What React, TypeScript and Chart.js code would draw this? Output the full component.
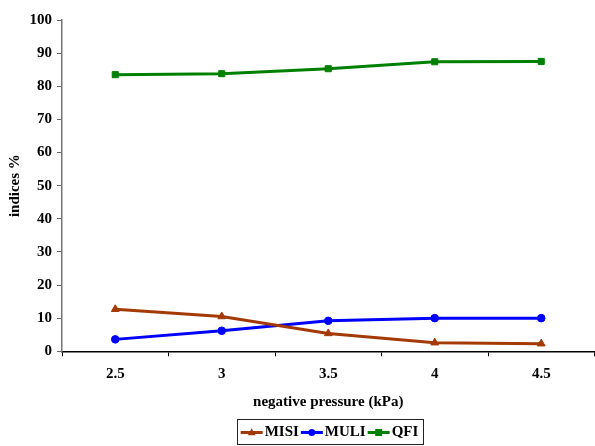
import React, { useEffect, useRef } from "react";
import { Chart, registerables } from "chart.js";

Chart.register(...registerables);

const categories = ["2.5", "3", "3.5", "4", "4.5"];
const misi = [12.7, 10.5, 5.4, 2.6, 2.3];
const muli = [3.6, 6.2, 9.2, 10.0, 10.0];
const qfi = [83.5, 83.8, 85.3, 87.4, 87.5];
const seriesNames = ["MISI", "MULI", "QFI"];
const seriesColors = ["#A33A06", "#0000FF", "#008000"];
const seriesMarkers = ["triangle", "circle", "rect"];

const FONT = "'Liberation Serif', 'Times New Roman', serif";
const FS = 15;

function drawMarker(ctx: CanvasRenderingContext2D, style: string, x: number, y: number, r: number) {
  ctx.beginPath();
  if (style === "circle") {
    ctx.arc(x, y, r, 0, Math.PI * 2);
  } else if (style === "rect") {
    ctx.rect(x - r, y - r, r * 2, r * 2);
  } else {
    ctx.moveTo(x, y - r * 1.2);
    ctx.lineTo(x + r * 1.1, y + r * 0.8);
    ctx.lineTo(x - r * 1.1, y + r * 0.8);
    ctx.closePath();
  }
  ctx.fill();
}

const legendPlugin = {
  id: "boxLegend",
  afterDraw(chart: any) {
    const ctx = chart.ctx;
    ctx.save();
    ctx.font = `bold ${FS}px ${FONT}`;
    const lineLen = 22;
    const gapAfterLine = 2;
    const gapItem = 2;
    const pad = 4;
    const items = chart.data.datasets.map((ds: any) => ({
      ds,
      w: lineLen + gapAfterLine + ctx.measureText(ds.label).width,
    }));
    const total =
      items.reduce((s: number, it: any) => s + it.w, 0) +
      gapItem * (items.length - 1) +
      pad * 2;
    const cx = 329.5;
    const top = 419;
    const h = 25;
    const left = cx - total / 2;
    ctx.strokeStyle = "#222";
    ctx.lineWidth = 1;
    ctx.strokeRect(Math.round(left) + 0.5, top + 0.5, Math.round(total), h);
    let x = left + pad;
    const cy = top + h / 2 + 1;
    items.forEach((it: any) => {
      const ds = it.ds;
      ctx.strokeStyle = ds.borderColor;
      ctx.lineWidth = 3;
      ctx.beginPath();
      ctx.moveTo(x, cy);
      ctx.lineTo(x + lineLen, cy);
      ctx.stroke();
      ctx.fillStyle = ds.borderColor;
      drawMarker(ctx, ds.pointStyle, x + lineLen / 2, cy, 3.5);
      ctx.fillStyle = "#000";
      ctx.textBaseline = "middle";
      ctx.textAlign = "left";
      ctx.fillText(ds.label, x + lineLen + gapAfterLine, cy);
      x += it.w + gapItem;
    });
    ctx.restore();
  },
};

export default function App() {
  const ref = useRef<HTMLCanvasElement>(null);
  useEffect(() => {
    if (!ref.current) return;
    const values = [misi, muli, qfi];
    const chart = new Chart(ref.current, {
      type: "line",
      data: {
        labels: categories,
        datasets: seriesNames.map((name, i) => ({
          label: name,
          data: values[i],
          borderColor: seriesColors[i],
          backgroundColor: seriesColors[i],
          borderWidth: 3,
          pointStyle: seriesMarkers[i] as any,
          pointRadius: seriesMarkers[i] === "rect" ? 4.3 : seriesMarkers[i] === "triangle" ? 4.5 : 3.8,
          pointBorderWidth: 1,
          tension: 0,
          fill: false,
        })),
      },
      options: {
        responsive: false,
        animation: false,
        devicePixelRatio: 1,
        layout: { padding: { top: 20, right: 1.5, bottom: 34.7, left: 0 } },
        plugins: {
          legend: { display: false },
          tooltip: { enabled: false },
        },
        scales: {
          x: {
            type: "category",
            offset: true,
            grid: {
              drawOnChartArea: false,
              drawTicks: true,
              tickLength: 5,
              color: "#000",
              offset: true,
            },
            border: { color: "#000", width: 1.5 },
            ticks: {
              color: "#000",
              font: { family: FONT, size: FS, weight: "bold" },
              padding: 9,
              maxRotation: 0,
            },
            title: {
              display: true,
              text: "negative pressure (kPa)",
              color: "#000",
              font: { family: FONT, size: FS, weight: "bold" },
              padding: { top: 10, bottom: 0 },
            },
            afterFit: (scale: any) => {
              scale.height = 60;
            },
          },
          y: {
            min: 0,
            max: 100,
            ticks: {
              stepSize: 10,
              color: "#000",
              font: { family: FONT, size: FS, weight: "bold" },
              padding: 5,
            },
            grid: {
              drawOnChartArea: false,
              drawTicks: true,
              tickLength: 5,
              color: "#666",
            },
            border: { color: "#777", width: 1.5 },
            title: {
              display: true,
              text: "indices %",
              color: "#000",
              font: { family: FONT, size: FS, weight: "bold" },
              padding: { top: 6, bottom: 0 },
            },
            afterFit: (scale: any) => {
              scale.width = 62;
            },
          },
        },
      },
      plugins: [legendPlugin],
    });
    return () => chart.destroy();
  }, []);
  return (
    <div
      style={{
        position: "fixed",
        left: 0,
        top: 0,
        width: 595,
        height: 446,
        overflow: "hidden",
        background: "#fff",
      }}
    >
      <canvas ref={ref} width={600} height={446} style={{ display: "block" }} />
    </div>
  );
}
